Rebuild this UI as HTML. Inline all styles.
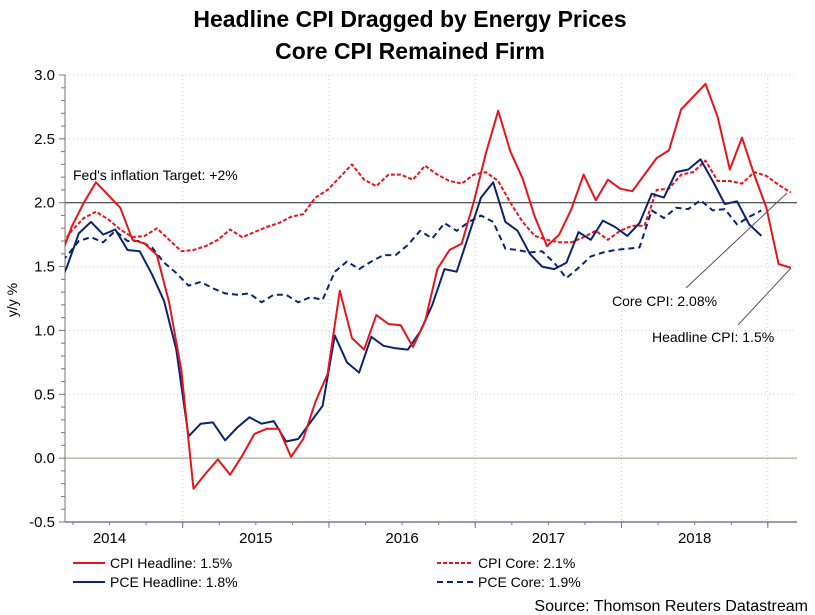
<!DOCTYPE html>
<html><head><meta charset="utf-8">
<style>
html,body{margin:0;padding:0;background:#fff;}
svg{display:block;font-family:"Liberation Sans",Arial,sans-serif;}
</style></head>
<body>
<svg id="chart" width="815" height="615" viewBox="0 0 815 615" xmlns="http://www.w3.org/2000/svg">
<defs><clipPath id="plotclip"><rect x="65" y="75" width="732" height="447"/></clipPath></defs>
<text x="410" y="27" text-anchor="middle" font-size="23" font-weight="bold">Headline CPI Dragged by Energy Prices</text>
<text x="410" y="59" text-anchor="middle" font-size="23" font-weight="bold">Core CPI Remained Firm</text>
<text transform="translate(17,300) rotate(-90)" text-anchor="middle" font-size="14">y/y %</text>
<g id="grid"></g>
<g id="axes"></g>
<g id="series" clip-path="url(#plotclip)"></g>
<text x="73" y="180" font-size="14">Fed's inflation Target: +2%</text>
<line x1="686" y1="288" x2="787" y2="193" stroke="#555" stroke-width="1"/>
<text x="612" y="306" font-size="14">Core CPI: 2.08%</text>
<line x1="738" y1="325" x2="791" y2="268" stroke="#555" stroke-width="1"/>
<text x="652" y="342" font-size="14">Headline CPI: 1.5%</text>
<g font-size="14">
 <g><line x1="73" y1="563" x2="105" y2="563" stroke="#e8141c" stroke-width="2"/><text x="110" y="568">CPI Headline: 1.5%</text></g>
 <g><line x1="73" y1="582" x2="105" y2="582" stroke="#0c2470" stroke-width="2"/><text x="110" y="587">PCE Headline: 1.8%</text></g>
 <g><line x1="437" y1="563" x2="473" y2="563" stroke="#e8141c" stroke-width="2" stroke-dasharray="4,2"/><text x="478" y="568">CPI Core: 2.1%</text></g>
 <g><line x1="437" y1="582" x2="473" y2="582" stroke="#0c2470" stroke-width="2" stroke-dasharray="6,4"/><text x="478" y="587">PCE Core: 1.9%</text></g>
</g>
<text x="808" y="611" text-anchor="end" font-size="16">Source: Thomson Reuters Datastream</text>
</svg>
<script>
const years = ["2014","2015","2016","2017","2018"];
const yTicks = [3.0,2.5,2.0,1.5,1.0,0.5,0.0,-0.5];
const cpiHeadline = [1.55,1.81,2.0,2.16,2.06,1.96,1.71,1.68,1.59,1.22,0.69,-0.24,-0.12,-0.01,-0.13,0.02,0.19,0.23,0.23,0.01,0.15,0.44,0.66,1.31,0.94,0.85,1.12,1.05,1.04,0.87,1.07,1.48,1.63,1.68,2.01,2.39,2.72,2.40,2.19,1.89,1.66,1.75,1.95,2.22,2.02,2.18,2.11,2.09,2.22,2.35,2.41,2.73,2.83,2.93,2.67,2.26,2.51,2.22,1.96,1.52,1.49];
const cpiCore = [1.65,1.78,1.88,1.93,1.87,1.79,1.73,1.74,1.8,1.71,1.62,1.63,1.66,1.71,1.79,1.73,1.77,1.81,1.84,1.89,1.91,2.04,2.10,2.20,2.30,2.18,2.13,2.22,2.22,2.18,2.29,2.22,2.17,2.15,2.22,2.24,2.17,2.0,1.85,1.74,1.71,1.69,1.69,1.73,1.78,1.71,1.78,1.82,1.82,2.10,2.11,2.22,2.24,2.33,2.17,2.17,2.15,2.24,2.21,2.14,2.08];
const pceHeadline = [1.3,1.49,1.76,1.85,1.75,1.79,1.63,1.62,1.44,1.23,0.85,0.17,0.27,0.28,0.14,0.24,0.32,0.27,0.29,0.13,0.15,0.28,0.41,0.96,0.75,0.67,0.95,0.88,0.86,0.85,0.99,1.20,1.48,1.46,1.75,2.04,2.16,1.85,1.78,1.60,1.50,1.48,1.53,1.77,1.71,1.86,1.81,1.74,1.84,2.07,2.04,2.24,2.26,2.34,2.17,1.99,2.01,1.83,1.74];
const pceCore = [1.5,1.58,1.70,1.73,1.69,1.78,1.70,1.70,1.65,1.53,1.45,1.35,1.38,1.33,1.29,1.28,1.29,1.22,1.28,1.28,1.22,1.26,1.24,1.46,1.54,1.48,1.54,1.59,1.59,1.67,1.78,1.72,1.84,1.78,1.85,1.90,1.85,1.64,1.63,1.61,1.62,1.53,1.41,1.49,1.58,1.61,1.63,1.64,1.65,1.94,1.88,1.96,1.95,2.02,1.94,1.95,1.83,1.89,1.94];

const NS="http://www.w3.org/2000/svg";
const L=65,R=797,T=75,B=522;
const yMin=-0.5,yMax=3.0;
function yPos(v){return B-(v-yMin)/(yMax-yMin)*(B-T);}
const monthW=12.19, firstYearStart=36.4;
function xYear(k){return firstYearStart+k*monthW*12;}
function xMonth(i,off){return 59.4+i*monthW+(off||0);}
function mk(tag,attrs,parent){const e=document.createElementNS(NS,tag);for(const k in attrs)e.setAttribute(k,attrs[k]);parent.appendChild(e);return e;}
const grid=document.getElementById('grid'),axes=document.getElementById('axes'),series=document.getElementById('series');

yTicks.forEach(v=>{
  const y=yPos(v);
  let col = v===2.0?'#222':(v===0?'#9a9a7a':'#b8d8a0');
  const gl=mk('line',{x1:L,y1:y,x2:R,y2:y,stroke:col,'stroke-width':1,'stroke-dasharray':(v===2.0||v===0)?'none':'1,3'},grid);
  
  
  const t=mk('text',{x:55,y:y+5,'text-anchor':'end','font-size':15},axes);
  t.textContent=v.toFixed(1);
  
  
});
for(let v=-0.5;v<=3.001;v+=0.1){
  const y=yPos(v);const major=Math.abs(v*2-Math.round(v*2))<0.01;
  mk('line',{x1:major?59:61,y1:y,x2:L,y2:y,stroke:'#777','stroke-width':1},axes);
}
mk('line',{x1:L,y1:T,x2:L,y2:B,stroke:'#777','stroke-width':1},axes);
mk('line',{x1:L,y1:B,x2:R,y2:B,stroke:'#9a9ab8','stroke-width':2},axes);
for(let k=1;k<=5;k++){
  const x=xYear(k);
  const vl=mk('line',{x1:x,y1:T,x2:x,y2:B,stroke:'#c8d8b0','stroke-width':1,'stroke-dasharray':'1,3'},grid);
  
  
  mk('line',{x1:x,y1:B,x2:x,y2:B+6,stroke:'#777'},axes);
}
for(let q=0;q<22;q++){
  const x=firstYearStart+q*monthW*3;
  if(x>L&&x<R) mk('line',{x1:x,y1:B,x2:x,y2:B+3,stroke:'#777'},axes);
}
years.forEach((yr,k)=>{
  const t=mk('text',{x:xYear(k)+monthW*6,y:543,'text-anchor':'middle','font-size':15},axes);
  t.textContent=yr;
  
  
});
function draw(arr,color,dash,name,off){
  const pts=arr.map((v,i)=>xMonth(i,off).toFixed(1)+','+yPos(v).toFixed(1)).join(' ');
  const p=mk('polyline',{points:pts,fill:'none',stroke:color,'stroke-width':2,'stroke-linejoin':'round'},series);
  if(dash)p.setAttribute('stroke-dasharray',dash);
  
  
}
draw(pceCore,'#0c2470','6,4','pce-core-line',-5);
draw(cpiCore,'#e8141c','4,2','cpi-core-line',0);
draw(pceHeadline,'#0c2470',null,'pce-headline-line',-5);
draw(cpiHeadline,'#e8141c',null,'cpi-headline-line',0);
</script>
</body></html>
